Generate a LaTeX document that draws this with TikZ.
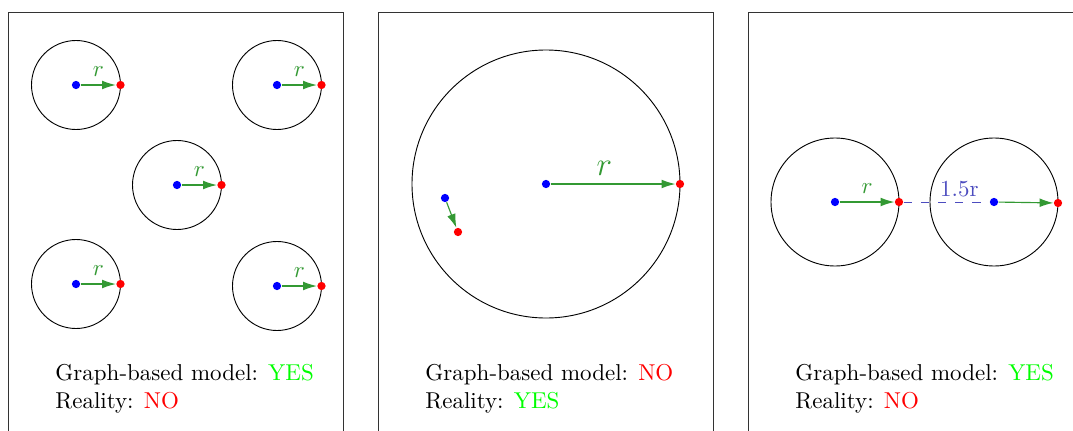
\documentclass[tikz,border=0pt]{standalone}
\usetikzlibrary{arrows.meta}
\definecolor{radgreen}{rgb}{0.2,0.6,0.2}
\definecolor{distblue}{rgb}{0.3,0.3,0.75}
\begin{document}
\begin{tikzpicture}[x=0.0153cm, y=-0.0153cm,
  ctr/.style={circle, fill=blue, inner sep=0pt, minimum size=3.6pt},
  pt/.style={circle, fill=red, inner sep=0pt, minimum size=3.6pt},
  rad/.style={-{Latex[length=6pt, width=3.8pt]}, radgreen, line width=0.5pt},
  lbl/.style={above, text=radgreen},
  txt/.style={anchor=base west, inner sep=0pt}
]
  \path[use as bounding box] (0,0) rectangle (1073,431);
  \clip (0,0) rectangle (1073,431);

  % panels
  \draw[black!80] (8,12) rectangle (343,460);
  \draw[black!80] (378,12) rectangle (713,460);
  \draw[black!80] (748,12) rectangle (1100,460);

  % left panel: five separate agents
  \coordinate (o1) at (76,85);
  \coordinate (o2) at (277,85);
  \coordinate (o3) at (177,185);
  \coordinate (o4) at (76,284);
  \coordinate (o5) at (277,286);
  \draw (o1) circle[radius=44.5];
  \draw (o2) circle[radius=44.5];
  \draw (o3) circle[radius=44.5];
  \draw (o4) circle[radius=44.5];
  \draw (o5) circle[radius=44.5];

  \node[ctr] (a1) at (o1) {};  \node[pt] (b1) at (120.5,85) {};
  \node[ctr] (a2) at (o2) {};  \node[pt] (b2) at (321.5,85) {};
  \node[ctr] (a3) at (o3) {};  \node[pt] (b3) at (221.5,185) {};
  \node[ctr] (a4) at (o4) {};  \node[pt] (b4) at (120.5,284) {};
  \node[ctr] (a5) at (o5) {};  \node[pt] (b5) at (321.5,286) {};

  \draw[rad] (a1) -- (b1) node[lbl, midway] (r1) {$r$};
  \draw[rad] (a2) -- (b2) node[lbl, midway] (r2) {$r$};
  \draw[rad] (a3) -- (b3) node[lbl, midway] (r3) {$r$};
  \draw[rad] (a4) -- (b4) node[lbl, midway] (r4) {$r$};
  \draw[rad] (a5) -- (b5) node[lbl, midway] (r5) {$r$};

  \node[txt] (g1) at (55,380) {Graph-based model: \textcolor{green}{YES}};
  \node[txt] (q1) at (55,408) {Reality: \textcolor{red}{NO}};

  % middle panel: one big range
  \coordinate (o6) at (546,184);
  \draw (o6) circle[radius=134];
  \node[ctr] (a6) at (o6) {};       \node[pt] (b6) at (680,184) {};
  \node[ctr] (a7) at (445,198) {};  \node[pt] (b7) at (458,232) {};
  \draw[rad] (a6) -- (b6) node[lbl, pos=0.43, font=\Large] (r6) {$r$};
  \draw[rad] (a7) -- (b7);

  \node[txt] (g2) at (425,380) {Graph-based model: \textcolor{red}{NO}};
  \node[txt] (q2) at (425,408) {Reality: \textcolor{green}{YES}};

  % right panel: two ranges 1.5r apart
  \coordinate (o8) at (835,202);
  \coordinate (o9) at (994,202);
  \draw (o8) circle[radius=64];
  \draw (o9) circle[radius=64];
  \node[ctr] (a8) at (o8) {};  \node[pt] (b8) at (899,202) {};
  \node[ctr] (a9) at (o9) {};  \node[pt] (b9) at (1058,203) {};
  \draw[rad] (a8) -- (b8) node[lbl, midway] (r8) {$r$};
  \draw[dash pattern=on 3.5pt off 4pt, distblue] (b8) -- (a9)
    node[above, pos=0.65, inner sep=2pt] (d8) {1.5r};
  \draw[rad] (a9) -- (b9);

  \node[txt] (g3) at (795,380) {Graph-based model: \textcolor{green}{YES}};
  \node[txt] (q3) at (795,408) {Reality: \textcolor{red}{NO}};
\end{tikzpicture}
\end{document}
